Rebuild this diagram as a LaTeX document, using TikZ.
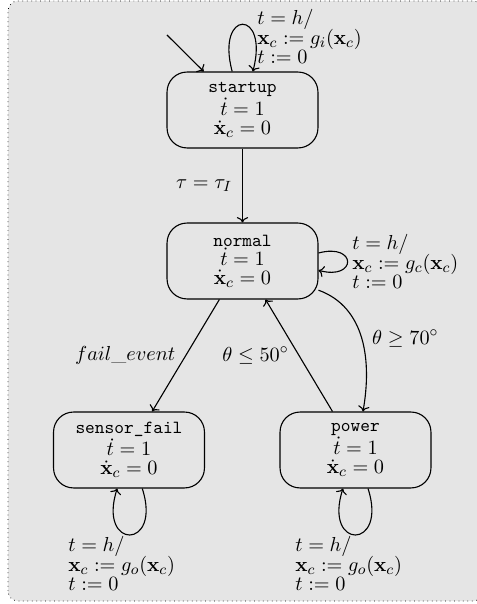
\documentclass[tikz,border=0pt]{standalone}
\usepackage{amsmath}
\usetikzlibrary{arrows.meta}
\newcommand{\stname}[1]{{\fontsize{10}{10.3}\selectfont\texttt{#1}}}
\newcommand{\statefont}{\fontsize{11}{10.3}\selectfont}
\newcommand{\lblfont}{\fontsize{11}{9.8}\selectfont\lineskiplimit=-20pt\relax}
\begin{document}
\begin{tikzpicture}[x=0.54pt, y=0.54pt,
  state/.style={draw, rounded corners=10.8pt, minimum width=81.5pt, minimum height=41pt,
    align=center, inner sep=0pt, line width=0.6pt, font=\statefont},
  lbl/.style={inner sep=0pt, align=left, font=\lblfont},
  elbl/.style={font=\fontsize{11}{12}\selectfont},
  trans/.style={->, line width=0.6pt}
]
\useasboundingbox (0,0) rectangle (476,604);
\draw[dotted, fill=black!10, rounded corners=5.4pt] (8,3) rectangle (483,603);

\node[state] (startup) at (242.5,494) {\stname{startup}\\ $\dot{t}=1$\\ $\dot{\mathbf{x}}_c=0$};
\node[state] (normal) at (242.5,343) {\stname{normal}\\ $\dot{t}=1$\\ $\dot{\mathbf{x}}_c=0$};
\node[state] (sensorfail) at (129,154) {\stname{sensor\_fail}\\ $\dot{t}=1$\\ $\dot{\mathbf{x}}_c=0$};
\node[state] (power) at (355.5,154) {\stname{power}\\ $\dot{t}=1$\\ $\dot{\mathbf{x}}_c=0$};

\coordinate (init) at (167,569);
\draw[trans] (init) -- (startup);

\draw[trans] (startup.105) .. controls +(105:65) and +(75:65) .. (startup.75);
\draw[trans] (normal.6) .. controls +(15:40) and +(-15:40) .. (normal.-7);
\draw[trans] (sensorfail.-71) .. controls +(-72:65) and +(-108:65) .. (sensorfail.-107.5);
\draw[trans] (power.-72) .. controls +(-72:65) and +(-108:65) .. (power.-108);

\draw[trans] (startup) -- (normal) node[elbl, midway, left=2pt] {$\tau=\tau_I$};
\draw[trans] (normal) -- (sensorfail) node[elbl, midway, left=2pt] {$fail\_event$};
\draw[trans] (power) -- (normal) node[elbl, midway, left=2pt] {$\theta\leq 50^\circ$};
\draw[trans] (normal.-21) to[out=-20,in=80] node[elbl, midway, right=2pt] {$\theta\geq 70^\circ$} (power.79);

\node[lbl, anchor=north west] (lstartup) at (257,595) {$t=h/$\\[1.2pt] $\mathbf{x}_c:=g_i(\mathbf{x}_c)$\\ $t:=0$};
\node[lbl, anchor=north west] (lnormal) at (352,370) {$t=h/$\\[1.2pt] $\mathbf{x}_c:=g_c(\mathbf{x}_c)$\\ $t:=0$};
\node[lbl, anchor=north west] (lsensor) at (68,68) {$t=h/$\\[1.2pt] $\mathbf{x}_c:=g_o(\mathbf{x}_c)$\\ $t:=0$};
\node[lbl, anchor=north west] (lpower) at (295,68) {$t=h/$\\[1.2pt] $\mathbf{x}_c:=g_o(\mathbf{x}_c)$\\ $t:=0$};
\end{tikzpicture}
\end{document}
